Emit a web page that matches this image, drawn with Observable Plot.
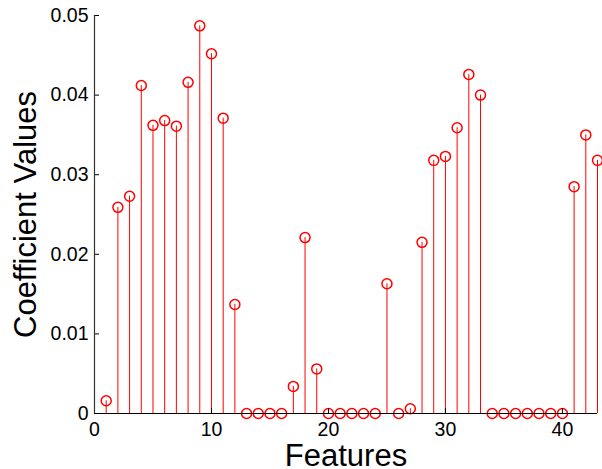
<!DOCTYPE html>
<html>
<head>
<meta charset="utf-8">
<script src="https://cdn.jsdelivr.net/npm/d3@7"></script>
<script src="https://cdn.jsdelivr.net/npm/@observablehq/plot@0.6"></script>
<style>
  html, body { margin: 0; padding: 0; background: #fff; }
  svg { display: block; }
</style>
</head>
<body>
<div id="chart"></div>
<script>
const features = d3.range(1, 44);
const coefficients = [
  0.0016, 0.0259, 0.0273, 0.0412, 0.0362, 0.0368, 0.0361, 0.0416, 0.0487, 0.0452,
  0.0371, 0.0137, 0, 0, 0, 0, 0.0034, 0.0221, 0.0056, 0,
  0, 0, 0, 0, 0.0163, 0, 0.0006, 0.0215, 0.0318, 0.0323,
  0.0359, 0.0426, 0.0400, 0, 0, 0, 0, 0, 0, 0,
  0.0285, 0.0350, 0.0318
];
const xTicks = [0, 10, 20, 30, 40];
const yTicks = [0, 0.01, 0.02, 0.03, 0.04, 0.05];
const yTickLabels = ["0", "0.01", "0.02", "0.03", "0.04", "0.05"];

const data = features.map((f, i) => ({feature: f, value: coefficients[i]}));

const chart = Plot.plot({
  width: 602,
  height: 469,
  marginLeft: 94,
  marginRight: 5,
  marginTop: 15,
  marginBottom: 56,
  style: {fontFamily: "Liberation Sans, Arial, sans-serif", fontSize: "19px", color: "#000", background: "#fff"},
  x: {domain: [0, 43]},
  y: {domain: [0, 0.05]},
  marks: [
    Plot.ruleX(data, {x: "feature", y1: 0, y2: "value", stroke: "#ff0000", strokeWidth: 1}),
    Plot.dot(data, {x: "feature", y: "value", r: 5, stroke: "#ff0000", strokeWidth: 1.5, fill: "none"}),
    Plot.axisX({ticks: xTicks, tickSize: -5, tickPadding: 14, fontSize: 19.5, label: null, stroke: "#000"}),
    Plot.axisY({ticks: yTicks, tickFormat: (d, i) => yTickLabels[i], tickSize: -5, tickPadding: 11, fontSize: 19.5, label: null}),
    Plot.ruleY([0], {stroke: "#000", strokeWidth: 1.2}),
    Plot.ruleX([0], {stroke: "#333", strokeWidth: 1.2}),
    Plot.text(["Features"], {frameAnchor: "bottom", dy: 52, fontSize: 31, fill: "#000", lineAnchor: "bottom"}),
    Plot.text(["Coefficient Values"], {frameAnchor: "left", dx: -68, rotate: -90, fontSize: 31, fill: "#000", textAnchor: "middle", lineAnchor: "middle"})
  ]
});
document.getElementById("chart").appendChild(chart);
</script>
</body>
</html>
